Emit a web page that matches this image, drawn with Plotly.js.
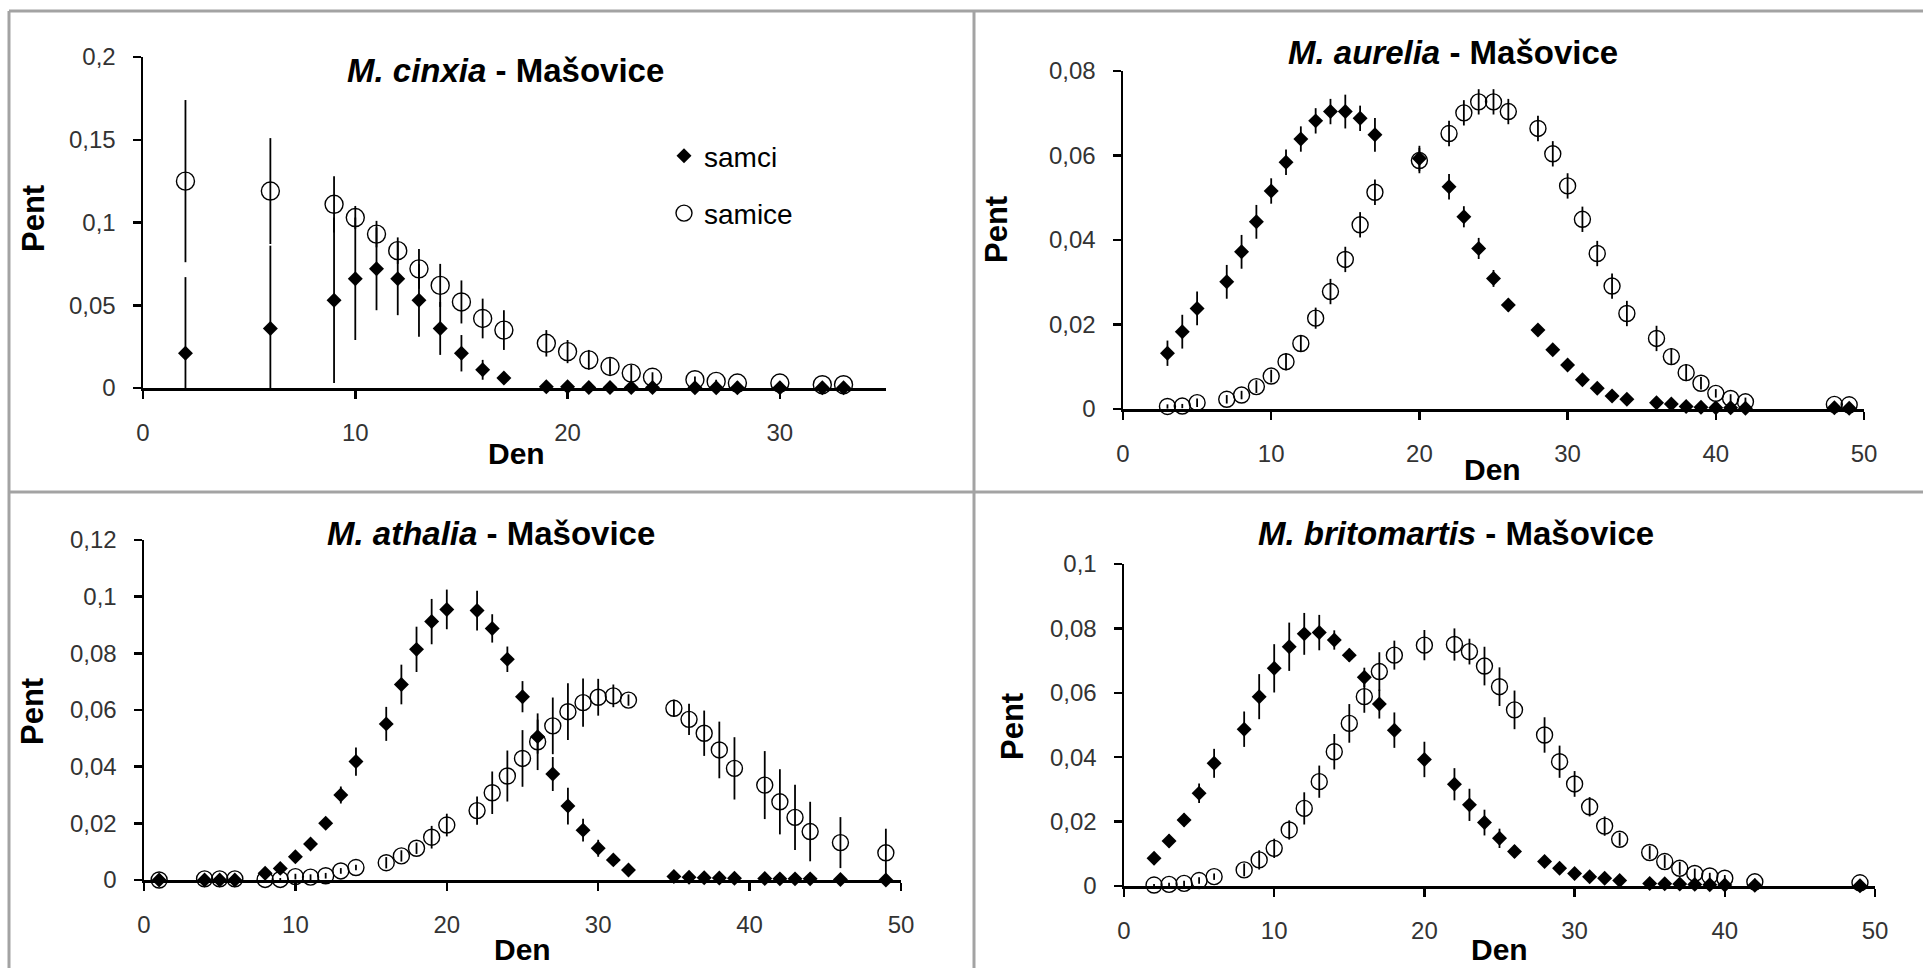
<!DOCTYPE html>
<html>
<head>
<meta charset="utf-8">
<script src="https://cdn.plot.ly/plotly-3.0.1.min.js"></script>
<style>html,body{margin:0;padding:0;background:#fff;}#chart{width:1923px;height:968px;}</style>
</head>
<body>
<div id="chart"></div>
<script>
// ---------- M. cinxia ----------
const cinxiaDays = [2,6,9,10,11,12,13,14,15,16,17,19,20,21,22,23,24,26,27,28,30,32,33];
const cinxiaMale = [0.021,0.036,0.053,0.066,0.072,0.066,0.053,0.036,0.021,0.011,0.006,0.0008,0.0008,0.0003,0.0003,0.0003,0.0003,0.0002,0.0002,0.0002,0.0002,0.0002,0.0002];
const cinxiaMaleErr = [0.046,0.05,0.05,0.037,0.025,0.022,0.022,0.016,0.011,0.006,0.003,0.001,0.001,0,0,0,0,0,0,0,0,0,0];
const cinxiaFemale = [0.125,0.119,0.111,0.103,0.093,0.083,0.072,0.062,0.052,0.042,0.035,0.027,0.022,0.017,0.013,0.009,0.0065,0.005,0.004,0.003,0.003,0.002,0.002];
const cinxiaFemaleErr = [0.049,0.032,0.017,0.007,0.008,0.008,0.012,0.013,0.013,0.012,0.012,0.008,0.007,0.006,0.005,0.005,0.003,0.002,0.001,0.001,0.001,0.001,0.001];

// ---------- M. aurelia ----------
const aureliaDays = [3,4,5,7,8,9,10,11,12,13,14,15,16,17,20,22,23,24,25,26,28,29,30,31,32,33,34,36,37,38,39,40,41,42,48,49];
const aureliaMale = [0.0132,0.0183,0.0238,0.0301,0.0372,0.0443,0.0516,0.0584,0.0639,0.0682,0.0704,0.0704,0.0688,0.0649,0.0593,0.0526,0.0455,0.0380,0.0309,0.0246,0.0187,0.0140,0.0104,0.0069,0.0049,0.0031,0.0023,0.0015,0.0012,0.0006,0.0004,0.0003,0.0003,0.0002,0.0003,0.0002];
const aureliaMaleErr = [0.003,0.004,0.004,0.004,0.004,0.004,0.003,0.003,0.003,0.003,0.003,0.004,0.003,0.004,0.003,0.003,0.0025,0.0025,0.002,0.0015,0.001,0.001,0.001,0.001,0.001,0.001,0.0005,0.0005,0.0005,0.0005,0.0003,0.0003,0.0003,0.0002,0.0003,0.0002];
const aureliaFemale = [0.0006,0.0007,0.0015,0.0023,0.0033,0.0053,0.0078,0.0112,0.0155,0.0215,0.0278,0.0354,0.0436,0.0513,0.0588,0.0652,0.0701,0.0727,0.0727,0.0704,0.0664,0.0604,0.0528,0.0449,0.0368,0.0291,0.0226,0.0167,0.0124,0.0086,0.0061,0.0037,0.0025,0.0017,0.0011,0.0010];
const aureliaFemaleErr = [0.0005,0.0005,0.001,0.001,0.001,0.0015,0.0015,0.002,0.002,0.0025,0.003,0.003,0.003,0.003,0.003,0.003,0.003,0.003,0.003,0.003,0.003,0.003,0.003,0.003,0.003,0.003,0.003,0.003,0.002,0.002,0.0015,0.001,0.001,0.001,0.0005,0.0005];

// ---------- M. athalia ----------
const athaliaDays = [1,4,5,6,8,9,10,11,12,13,14,16,17,18,19,20,22,23,24,25,26,27,28,29,30,31,32,35,36,37,38,39,41,42,43,44,46,49];
const athaliaMale = [0,0,0,0,0.0024,0.0041,0.0082,0.0127,0.02,0.03,0.0418,0.0551,0.069,0.0814,0.0912,0.0955,0.0951,0.0888,0.0779,0.0647,0.0506,0.0374,0.0261,0.0176,0.0112,0.0071,0.0035,0.0012,0.001,0.0008,0.0007,0.0006,0.0005,0.0004,0.0004,0.0004,0.0002,0];
const athaliaMaleErr = [0,0,0,0,0.001,0.002,0.002,0.002,0.002,0.003,0.005,0.006,0.007,0.008,0.008,0.007,0.007,0.005,0.0045,0.0055,0.006,0.006,0.0065,0.004,0.003,0.002,0.001,0.0005,0.0005,0.0005,0.0005,0.0005,0.0005,0.0005,0.0005,0.0005,0.0003,0];
const athaliaFemale = [0,0.0004,0.0004,0.0004,0.0002,0.0002,0.0012,0.001,0.0015,0.0032,0.0044,0.0061,0.0085,0.0112,0.0151,0.0194,0.0245,0.0308,0.0367,0.0429,0.0488,0.0544,0.0594,0.0626,0.0645,0.065,0.0635,0.0606,0.0567,0.0518,0.0459,0.0394,0.0335,0.0276,0.0221,0.0171,0.0132,0.0096];
const athaliaFemaleErr = [0,0,0,0,0,0.0005,0.001,0.001,0.001,0.001,0.001,0.002,0.002,0.002,0.004,0.004,0.005,0.0075,0.009,0.01,0.01,0.01,0.01,0.0085,0.0065,0.004,0.002,0.003,0.0055,0.008,0.01,0.011,0.012,0.0115,0.0115,0.0105,0.009,0.0085];

// ---------- M. britomartis ----------
const britoDays = [2,3,4,5,6,8,9,10,11,12,13,14,15,16,17,18,20,22,23,24,25,26,28,29,30,31,32,33,35,36,37,38,39,40,42,49];
const britoMale = [0.0086,0.014,0.0205,0.0288,0.0381,0.0487,0.0588,0.0676,0.0743,0.0783,0.0787,0.0764,0.0717,0.0648,0.0565,0.0484,0.0393,0.0316,0.0252,0.0197,0.0148,0.0107,0.0076,0.0055,0.0039,0.0029,0.0024,0.0017,0.0008,0.0007,0.0006,0.0005,0.0004,0.0003,0.0002,0.0001];
const britoMaleErr = [0.001,0.002,0.002,0.003,0.0045,0.0055,0.007,0.0075,0.0075,0.0065,0.0055,0.003,0.002,0.003,0.0045,0.0055,0.0055,0.005,0.005,0.004,0.003,0.002,0.001,0.001,0.001,0.001,0.001,0.001,0.0005,0.0005,0.0005,0.0005,0.0005,0.0005,0.0003,0.0002];
const britoFemale = [0.0003,0.0005,0.0008,0.0017,0.0029,0.005,0.0081,0.0117,0.0174,0.0241,0.0324,0.0417,0.0505,0.0588,0.0666,0.0717,0.0748,0.075,0.0728,0.0683,0.0619,0.0547,0.0469,0.0386,0.0317,0.0246,0.0186,0.0145,0.0104,0.0076,0.0055,0.0039,0.0031,0.0024,0.0013,0.001];
const britoFemaleErr = [0.0003,0.0005,0.0008,0.001,0.001,0.002,0.003,0.003,0.003,0.005,0.005,0.0055,0.006,0.005,0.006,0.0045,0.0047,0.005,0.004,0.006,0.006,0.006,0.0055,0.005,0.004,0.003,0.003,0.002,0.002,0.002,0.002,0.0015,0.001,0.001,0.001,0.0005];

// ---------- text ----------
const seriesNames = ['samci', 'samice'];
const panelTitles = ['<b><i>M. cinxia</i> - Mašovice</b>', '<b><i>M. aurelia</i> - Mašovice</b>',
                     '<b><i>M. athalia</i> - Mašovice</b>', '<b><i>M. britomartis</i> - Mašovice</b>'];
const xTitle = 'Den';
const yTitle = 'Pent';

const W = 1923, H = 968;
const px = v => v / W;
const py = v => 1 - v / H;
const FONT = 'Liberation Sans, Arial, sans-serif';

const panels = [
  {days: cinxiaDays, m: cinxiaMale, me: cinxiaMaleErr, f: cinxiaFemale, fe: cinxiaFemaleErr,
   xd: [143, 886], yd: [57, 388], xr: [0, 35], yr: [0, 0.2], dy: 0.05, circ: 18,
   title: [505, 70], ylab: [33, 219], xlab: [516, 453]},
  {days: aureliaDays, m: aureliaMale, me: aureliaMaleErr, f: aureliaFemale, fe: aureliaFemaleErr,
   xd: [1123, 1864], yd: [71, 409], xr: [0, 50], yr: [0, 0.08], dy: 0.02, circ: 16,
   title: [1453, 52], ylab: [996, 230], xlab: [1492, 469]},
  {days: athaliaDays, m: athaliaMale, me: athaliaMaleErr, f: athaliaFemale, fe: athaliaFemaleErr,
   xd: [144, 901], yd: [540, 880], xr: [0, 50], yr: [0, 0.12], dy: 0.02, circ: 16,
   title: [491, 533], ylab: [32, 712], xlab: [522, 949]},
  {days: britoDays, m: britoMale, me: britoMaleErr, f: britoFemale, fe: britoFemaleErr,
   xd: [1124, 1875], yd: [564, 886], xr: [0, 50], yr: [0, 0.1], dy: 0.02, circ: 16,
   title: [1456, 533], ylab: [1012, 727], xlab: [1499, 949]}
];

const traces = [];
const layout = {
  width: W, height: H,
  margin: {l: 0, r: 0, t: 0, b: 0},
  paper_bgcolor: '#ffffff', plot_bgcolor: '#ffffff',
  separators: ', ',
  showlegend: true,
  legend: {
    x: px(664), y: py(131), xanchor: 'left', yanchor: 'top',
    font: {family: FONT, size: 28, color: '#000'},
    bgcolor: 'rgba(0,0,0,0)', traceorder: 'grouped', tracegroupgap: 18
  },
  annotations: [],
  shapes: []
};

panels.forEach((p, i) => {
  const n = i + 1;
  const xa = 'x' + (n === 1 ? '' : n), ya = 'y' + (n === 1 ? '' : n);
  const clampMinus = (vals, errs) => errs.map((e, k) => Math.min(e, vals[k]));
  traces.push({
    type: 'scatter', mode: 'markers', name: seriesNames[0], legendgroup: 'm',
    showlegend: i === 0, xaxis: xa, yaxis: ya, cliponaxis: false,
    x: p.days, y: p.m,
    error_y: {type: 'data', symmetric: false, array: p.me, arrayminus: clampMinus(p.m, p.me),
              color: '#000', thickness: 1.8, width: 0},
    marker: {symbol: 'diamond', size: 11.5, color: '#000', line: {width: 0}}
  });
  traces.push({
    type: 'scatter', mode: 'markers', name: seriesNames[1], legendgroup: 'f',
    showlegend: i === 0, xaxis: xa, yaxis: ya, cliponaxis: false,
    x: p.days, y: p.f,
    error_y: {type: 'data', symmetric: false, array: p.fe, arrayminus: clampMinus(p.f, p.fe),
              color: '#000', thickness: 1.8, width: 0},
    marker: {symbol: 'circle-open', size: p.circ, color: '#000', line: {width: 1.4, color: '#000'}}
  });
  const axCommon = {
    showline: true, linecolor: '#000', linewidth: 2.5, mirror: false,
    showgrid: false, zeroline: false, ticks: 'outside', ticklen: 8, tickwidth: 2.5, tickcolor: '#000',
    tickfont: {family: FONT, size: 24, color: '#333'}, fixedrange: true
  };
  layout['xaxis' + (n === 1 ? '' : n)] = Object.assign({}, axCommon, {
    domain: [px(p.xd[0]), px(p.xd[1])], range: p.xr, anchor: ya, dtick: 10, tick0: 0,
    ticklabelstandoff: 14
  });
  layout['yaxis' + (n === 1 ? '' : n)] = Object.assign({}, axCommon, {
    domain: [py(p.yd[1]), py(p.yd[0])], range: p.yr, anchor: xa, dtick: p.dy, tick0: 0,
    ticklabelstandoff: 12
  });
  layout.annotations.push({
    xref: 'paper', yref: 'paper', x: px(p.title[0]), y: py(p.title[1]), xanchor: 'center', yanchor: 'middle',
    text: panelTitles[i], showarrow: false, font: {family: FONT, size: 33, color: '#000'}
  });
  layout.annotations.push({
    xref: 'paper', yref: 'paper', x: px(p.ylab[0]), y: py(p.ylab[1]), xanchor: 'center', yanchor: 'middle',
    text: '<b>' + yTitle + '</b>', textangle: -90, showarrow: false, font: {family: FONT, size: 31, color: '#000'}
  });
  layout.annotations.push({
    xref: 'paper', yref: 'paper', x: px(p.xlab[0]), y: py(p.xlab[1]), xanchor: 'center', yanchor: 'middle',
    text: '<b>' + xTitle + '</b>', showarrow: false, font: {family: FONT, size: 30, color: '#000'}
  });
});

// panel frame lines
const frameStyle = {color: '#a3a3a3', width: 3};
[[9, 11, 9, 968], [9, 11, 1923, 11], [974, 11, 974, 968], [9, 492, 1923, 492]].forEach(s => {
  layout.shapes.push({type: 'line', xref: 'paper', yref: 'paper', layer: 'below',
    x0: px(s[0]), y0: py(s[1]), x1: px(s[2]), y1: py(s[3]), line: frameStyle});
});

Plotly.newPlot('chart', traces, layout, {displayModeBar: false, staticPlot: true});
</script>
</body>
</html>
